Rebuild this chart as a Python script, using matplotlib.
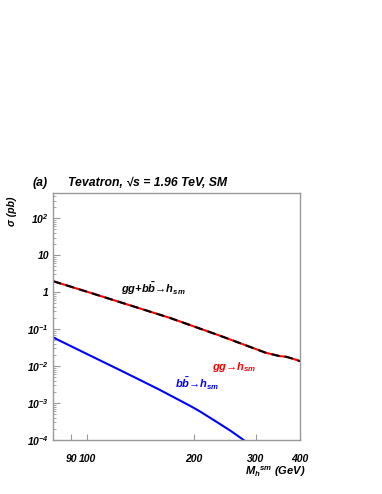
import matplotlib
matplotlib.use('Agg')
import matplotlib.pyplot as plt
import numpy as np
from matplotlib.ticker import FixedLocator, FixedFormatter, LogLocator, NullFormatter

plt.rcParams['font.family'] = ['Liberation Sans', 'DejaVu Sans']
plt.rcParams['font.weight'] = 'bold'
plt.rcParams['font.style'] = 'italic'
plt.rcParams['mathtext.fontset'] = 'custom'
plt.rcParams['mathtext.rm'] = 'Liberation Sans:bold:italic'
plt.rcParams['mathtext.it'] = 'Liberation Sans:bold:italic'
plt.rcParams['mathtext.bf'] = 'Liberation Sans:bold:italic'
plt.rcParams['mathtext.default'] = 'rm'

# gg+bb -> h (total, black dashed) and gg -> h (red) (pb)
mass_tot = [80, 100, 124, 171, 237, 320, 350, 366, 380, 400]
sigma_tot = [1.98, 1.02, 0.533, 0.202, 0.0667, 0.0229, 0.0186, 0.0178, 0.016, 0.0136]
# bb -> h (blue)
mass_bb = [80, 100, 124, 141, 160, 183, 195, 208, 231, 255, 277]
sigma_bb = [0.0597, 0.021, 0.0077, 0.0042, 0.0023, 1.17e-3, 8.5e-4, 6.0e-4, 3.2e-4, 1.75e-4, 1.0e-4]

x_ticks = [90, 100, 200, 300, 400]
x_labels = ['90', '100', '200', '300', '400']
y_ticks = [1e-4, 1e-3, 1e-2, 1e-1, 1, 10, 100]
y_labels = ['10$^{-4}$', '10$^{-3}$', '10$^{-2}$', '10$^{-1}$', '1', '10', '10$^{2}$']

fig = plt.figure(figsize=(3.82, 4.94), dpi=100)
ax = fig.add_axes([53 / 382, 1 - 440 / 494, 247 / 382, 247 / 494])

ax.plot(mass_tot, sigma_tot, color='red', lw=1.5, solid_capstyle='butt')
ax.plot(mass_tot, sigma_tot, color='black', lw=1.5, dashes=(4, 2.5))
ax.plot(mass_bb, sigma_bb, color='blue', lw=1.5)

ax.set_xscale('log')
ax.set_yscale('log')
ax.set_xlim(80, 400)
ax.set_ylim(1e-4, 480)

ax.xaxis.set_major_locator(FixedLocator(x_ticks))
ax.xaxis.set_major_formatter(FixedFormatter(x_labels))
ax.xaxis.set_minor_locator(FixedLocator([]))
ax.yaxis.set_major_locator(FixedLocator(y_ticks))
ax.yaxis.set_major_formatter(FixedFormatter(y_labels))
ax.yaxis.set_minor_locator(LogLocator(base=10, subs=np.arange(2, 10), numticks=20))
ax.yaxis.set_minor_formatter(NullFormatter())

for s in ax.spines.values():
    s.set_color('#999999')
    s.set_linewidth(1.0)
ax.tick_params(axis='both', which='both', direction='in', color='#999999')
ax.tick_params(axis='x', which='major', length=4, pad=10, labelsize=7.5)
ax.tick_params(axis='y', which='major', length=5, pad=3, labelsize=7.5)
ax.tick_params(axis='y', which='minor', length=2.5)

ax.text(125, 1.2, 'gg+b$\\bar{b}$\u2192h$_{sm}$', fontsize=8, color='black', va='center')
ax.text(226, 0.0096, 'gg\u2192h$_{sm}$', fontsize=8, color='red', va='center')
ax.text(177, 0.0034, 'b$\\bar{b}$\u2192h$_{sm}$', fontsize=8, color='blue', va='center')

fig.text(33 / 382, 1 - 183 / 494, '(a)', fontsize=8.8, va='center')
fig.text(68 / 382, 1 - 183 / 494, 'Tevatron, \u221as = 1.96 TeV, SM', fontsize=8.8, va='center')
fig.text(12 / 382, 1 - 211 / 494, '\u03c3 (pb)', fontsize=7.5, rotation=90, va='center', ha='center')
fig.text(306 / 382, 1 - 472 / 494, 'M$_h$$^{sm}$ (GeV)', fontsize=8, ha='right', va='center')

fig.savefig('out.png', dpi=100)
